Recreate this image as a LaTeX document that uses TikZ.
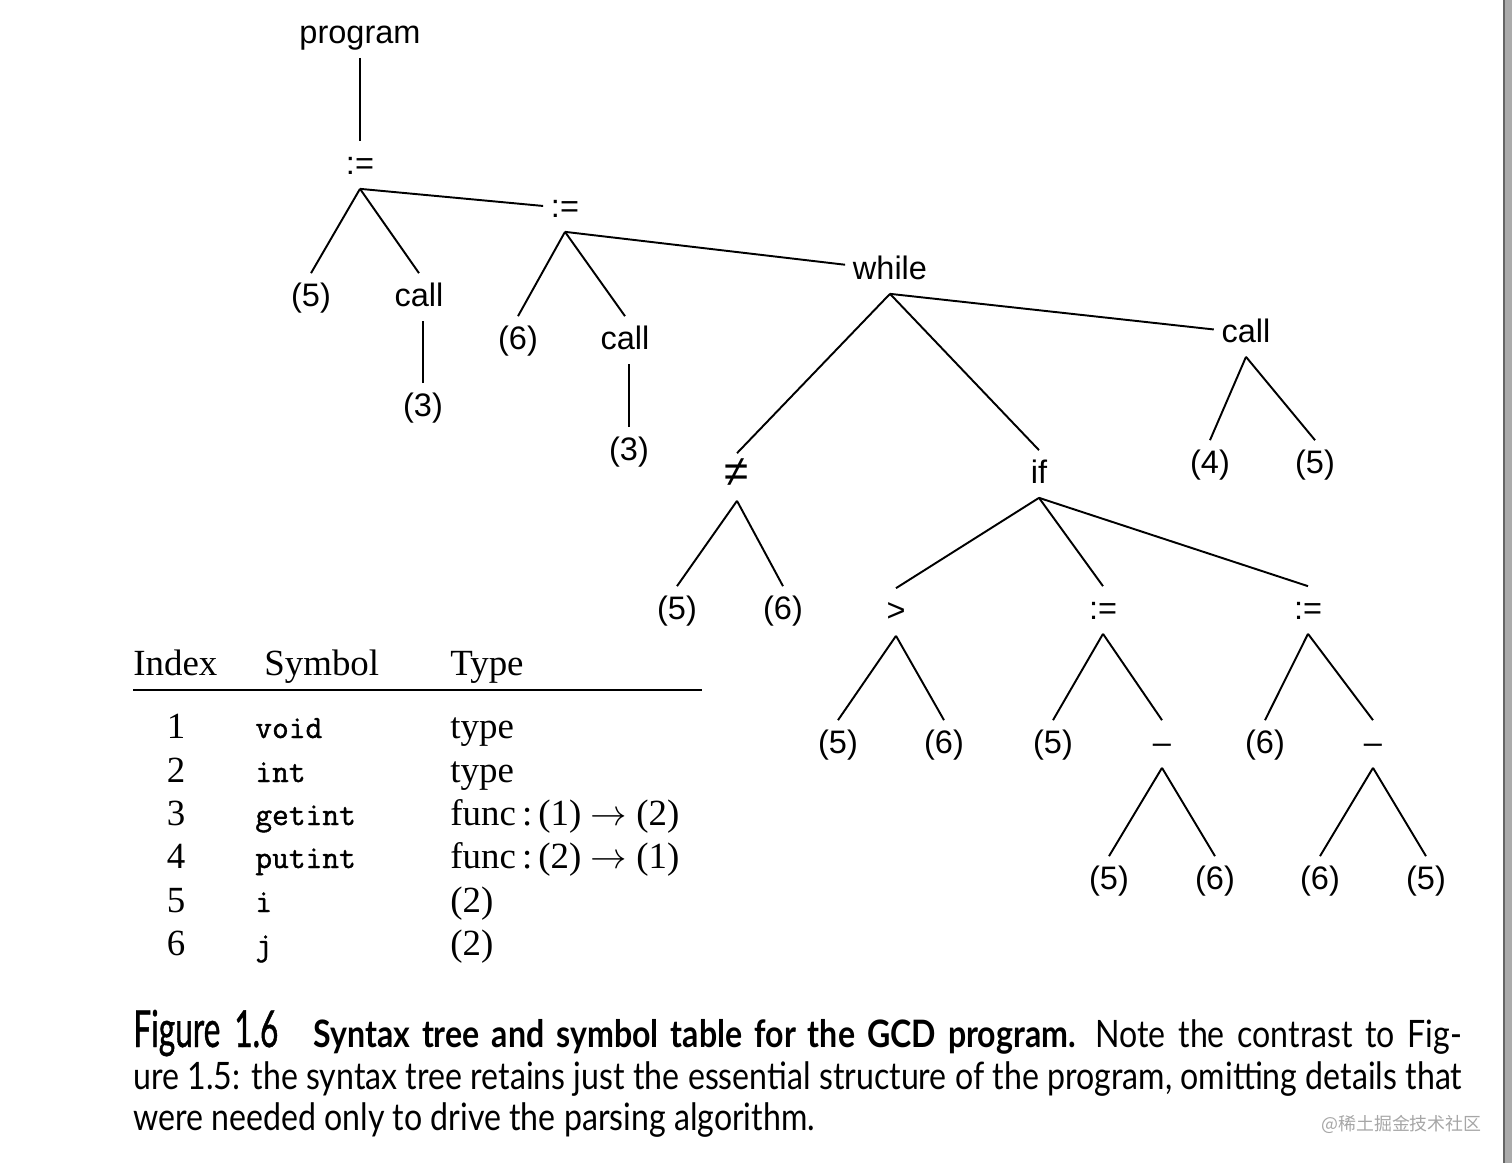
\documentclass[tikz,border=0pt]{standalone}
\usepackage{fontspec}
\setmainfont{Liberation Serif}
\setsansfont{Liberation Sans}
\newfontfamily\capfont[FakeStretch=0.85]{Lato}
\newfontfamily\figfont[FakeStretch=0.62, FakeBold=0.8]{Lato}
\newfontfamily\symfont[FakeBold=1.2]{Latin Modern Mono}
\newfontfamily\cjk{Noto Sans CJK SC}
\begin{document}
\begin{tikzpicture}[
    x=0.02cm, y=-0.02cm,
    tn/.style={anchor=base, font=\sffamily\fontsize{18.5}{22}\selectfont, text height=0.5cm, text depth=0.14cm, inner sep=0.15cm},
    edge/.style={line width=1.1pt},
    cell/.style={anchor=base west, inner sep=0pt, font=\fontsize{21}{25}\selectfont},
    num/.style={cell, anchor=base},
    sym/.style={cell, font=\symfont\fontsize{18.5}{22}\selectfont},
    capline/.style={anchor=base west, inner sep=0pt, font=\capfont\fontsize{21.5}{25}\selectfont},
]
\useasboundingbox (0,0) rectangle (1512,1163);

% page edge
\fill[black!33] (1503,0) rectangle (1512,1163);
\draw[black!60, line width=1.2pt] (1504,0) -- (1504,1163);

% Syntax tree
\node[tn] (prog) at (360,43) {program};
\node[tn] (as1) at (360,174) {:=};
\node[tn] (as1l) at (311,306) {(5)};
\node[tn] (as1c) at (419,306) {call};
\node[tn] (as1c3) at (423,416) {(3)};
\node[tn] (as2) at (565,217) {:=};
\node[tn] (as2l) at (518,349) {(6)};
\node[tn] (as2c) at (625,349) {call};
\node[tn] (as2c3) at (629,460) {(3)};
\node[tn] (wh) at (890,279) {while};
\node[tn, font=\sffamily\fontsize{25}{28}\selectfont] (ne) at (737,486) {≠};
\node[tn] (ne5) at (677,619) {(5)};
\node[tn] (ne6) at (783,619) {(6)};
\node[tn] (ifn) at (1039,483) {if};
\node[tn] (wc) at (1246,342) {call};
\node[tn] (wc4) at (1210,473) {(4)};
\node[tn] (wc5) at (1315,473) {(5)};
\node[tn] (gt) at (896,621) {>};
\node[tn] (gt5) at (838,753) {(5)};
\node[tn] (gt6) at (944,753) {(6)};
\node[tn] (as3) at (1103,619) {:=};
\node[tn] (as3l) at (1053,753) {(5)};
\node[tn] (mi1) at (1162,753) {–};
\node[tn] (mi1l) at (1109,889) {(5)};
\node[tn] (mi1r) at (1215,889) {(6)};
\node[tn] (as4) at (1308,619) {:=};
\node[tn] (as4l) at (1265,753) {(6)};
\node[tn] (mi2) at (1373,753) {–};
\node[tn] (mi2l) at (1320,889) {(6)};
\node[tn] (mi2r) at (1426,889) {(5)};

\draw[edge] (prog) -- (as1);
\draw[edge] (as1.south) -- (as1l.north);
\draw[edge] (as1.south) -- (as1c.north);
\draw[edge] (as1.south) -- (as2);
\draw[edge] (as1c3.north) -- (as1c3.north |- as1c.south);
\draw[edge] (as2.south) -- (as2l.north);
\draw[edge] (as2.south) -- (as2c.north);
\draw[edge] (as2.south) -- (wh);
\draw[edge] (as2c3.north) -- (as2c3.north |- as2c.south);
\draw[edge] (wh.south) -- (ne.north);
\draw[edge] (wh.south) -- (ifn.north);
\draw[edge] (wh.south) -- (wc);
\draw[edge] (ne.south) -- (ne5.north);
\draw[edge] (ne.south) -- (ne6.north);
\draw[edge] (wc.south) -- (wc4.north);
\draw[edge] (wc.south) -- (wc5.north);
\draw[edge] (ifn.south) -- (gt.north);
\draw[edge] (ifn.south) -- (as3.north);
\draw[edge] (ifn.south) -- (as4.north);
\draw[edge] (gt.south) -- (gt5.north);
\draw[edge] (gt.south) -- (gt6.north);
\draw[edge] (as3.south) -- (as3l.north);
\draw[edge] (as3.south) -- (mi1.north);
\draw[edge] (mi1.south) -- (mi1l.north);
\draw[edge] (mi1.south) -- (mi1r.north);
\draw[edge] (as4.south) -- (as4l.north);
\draw[edge] (as4.south) -- (mi2.north);
\draw[edge] (mi2.south) -- (mi2l.north);
\draw[edge] (mi2.south) -- (mi2r.north);

% Symbol table
\node[cell] (idxhead) at (133,675) {Index};
\node[cell] (symhead) at (264,675) {Symbol};
\node[cell] (typehead) at (450,675) {Type};
\draw[line width=1.1pt] (133,690) -- (702,690);

\node[num] (i1) at (176,738) {1};
\node[sym] (s1) at (255,738) {void};
\node[cell] (t1) at (450,738) {type};
\node[num] (i2) at (176,782) {2};
\node[sym] (s2) at (255,782) {int};
\node[cell] (t2) at (450,782) {type};
\node[num] (i3) at (176,825) {3};
\node[sym] (s3) at (255,825) {getint};
\node[cell] (t3) at (450,825) {func\,:\,(1) $\rightarrow$ (2)};
\node[num] (i4) at (176,868) {4};
\node[sym] (s4) at (255,868) {putint};
\node[cell] (t4) at (450,868) {func\,:\,(2) $\rightarrow$ (1)};
\node[num] (i5) at (176,912) {5};
\node[sym] (s5) at (255,912) {i};
\node[cell] (t5) at (450,912) {(2)};
\node[num] (i6) at (176,955) {6};
\node[sym] (s6) at (255,955) {j};
\node[cell] (t6) at (450,955) {(2)};

% Caption
\node[capline] (cap1) at (133,1047) {\makebox[26.58cm][s]{{\figfont\fontsize{29}{30}\selectfont Figure\hspace{0.28cm}1.6}\hspace{0.7cm}{\bfseries Syntax tree and symbol table for the GCD program.}\hspace{0.4cm}Note the contrast to Fig-}};
\node[capline] (cap2) at (133,1089) {\makebox[26.58cm][s]{ure 1.5: the syntax tree retains just the essential structure of the program, omitting details that}};
\node[capline] (cap3) at (133,1130) {were needed only to drive the parsing algorithm.};
\node[anchor=base east, inner sep=0pt, text=black!35, font=\cjk\fontsize{10.2}{12}\selectfont] (mark) at (1482,1130) {@稀土掘金技术社区};

\end{tikzpicture}
\end{document}
